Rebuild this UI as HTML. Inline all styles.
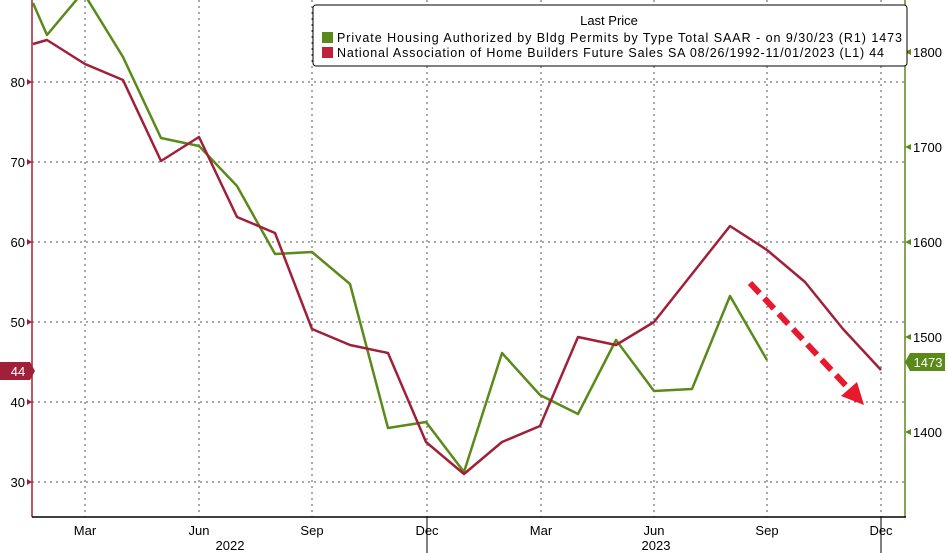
<!DOCTYPE html><html><head><style>body{margin:0;background:#fff}svg{display:block;font-family:"Liberation Sans",sans-serif}</style></head><body>
<svg width="947" height="553" viewBox="0 0 947 553">
<g stroke="#555" stroke-dasharray="2,4" stroke-width="1">
<line x1="32" y1="82" x2="905" y2="82"/><line x1="32" y1="162" x2="905" y2="162"/><line x1="32" y1="242" x2="905" y2="242"/><line x1="32" y1="322" x2="905" y2="322"/><line x1="32" y1="402" x2="905" y2="402"/><line x1="32" y1="482" x2="905" y2="482"/>
<line x1="85" y1="0" x2="85" y2="517"/><line x1="199" y1="0" x2="199" y2="517"/><line x1="312" y1="0" x2="312" y2="517"/><line x1="427" y1="0" x2="427" y2="517"/><line x1="541" y1="0" x2="541" y2="517"/><line x1="654" y1="0" x2="654" y2="517"/><line x1="767" y1="0" x2="767" y2="517"/><line x1="881" y1="0" x2="881" y2="517"/>
</g>
<line x1="32" y1="0" x2="32" y2="517" stroke="#a0203a" stroke-width="1.5"/>
<line x1="905" y1="0" x2="905" y2="517" stroke="#5a8a1a" stroke-width="1.5"/>
<line x1="32" y1="517" x2="906" y2="517" stroke="#000" stroke-width="1.5"/>
<g stroke="#000"><line x1="427" y1="517" x2="427" y2="553"/><line x1="881" y1="517" x2="881" y2="553"/></g>
<g fill="#a0203a">
<polygon points="32,82 27,79 27,85"/><polygon points="32,162 27,159 27,165"/><polygon points="32,242 27,239 27,245"/><polygon points="32,322 27,319 27,325"/><polygon points="32,402 27,399 27,405"/><polygon points="32,482 27,479 27,485"/></g>
<g font-size="13" fill="#000" text-anchor="end"><text x="25" y="87">80</text><text x="25" y="167">70</text><text x="25" y="247">60</text><text x="25" y="327">50</text><text x="25" y="407">40</text><text x="25" y="487">30</text></g>
<g fill="#5a8a1a"><polygon points="905,52 911,49 911,55"/><polygon points="905,147 911,144 911,150"/><polygon points="905,242 911,239 911,245"/><polygon points="905,337 911,334 911,340"/><polygon points="905,432 911,429 911,435"/></g>
<g font-size="13" fill="#000"><text x="913" y="57">1800</text><text x="913" y="152">1700</text><text x="913" y="247">1600</text><text x="913" y="342">1500</text><text x="913" y="437">1400</text></g>
<g font-size="13" fill="#000" text-anchor="middle"><text x="85" y="535">Mar</text><text x="199" y="535">Jun</text><text x="312" y="535">Sep</text><text x="427" y="535">Dec</text><text x="541" y="535">Mar</text><text x="654" y="535">Jun</text><text x="767" y="535">Sep</text><text x="881" y="535">Dec</text><text x="230" y="550">2022</text><text x="656" y="550">2023</text></g>
<polyline fill="none" stroke="#5a8a1a" stroke-width="2.5" stroke-linejoin="round" points="33,3 47,35 83,-8 123,57 161,138 199,146 237,186 275,254 312,252 350,284 388,428 426,422 464,472 502,353 540,395 578,414 616,340 654,391 692,389 730,296 767,360"/>
<polyline fill="none" stroke="#a0203a" stroke-width="2.5" stroke-linejoin="round" points="33,44 47,40 85,64 123,80 161,161 199,137 237,217 275,233 312,329 350,345 388,353 426,442 464,474 502,442 540,426 578,337 616,345 654,322 692,274 730,226 767,250 805,282 843,329 881,370"/>
<line x1="750" y1="283" x2="850" y2="390" stroke="#e8192c" stroke-width="6" stroke-dasharray="14,7"/>
<polygon points="864,405 841,396 857,382" fill="#e8192c"/>
<polygon points="0,362 30,362 35,371 30,380 0,380" fill="#a0203a"/><text x="18" y="376" font-size="13" fill="#fff" text-anchor="middle">44</text>
<polygon points="905,362 910,353 945,353 945,371 910,371" fill="#5a8a1a"/><text x="928" y="367" font-size="13" fill="#fff" text-anchor="middle">1473</text>
<rect x="313" y="5" width="594" height="61" rx="3" fill="#fff" stroke="#000"/>
<text x="609" y="25" font-size="13" text-anchor="middle">Last Price</text>
<rect x="322" y="32" width="11" height="11" fill="#5a8a1a"/><rect x="322" y="47" width="11" height="11" fill="#c0203a"/>
<text x="337" y="42" font-size="12.5" textLength="565">Private Housing Authorized by Bldg Permits by Type Total SAAR -  on 9/30/23  (R1)    1473</text>
<text x="337" y="57" font-size="12.5" textLength="547">National Association of Home Builders Future Sales SA 08/26/1992-11/01/2023   (L1) 44</text>
</svg></body></html>
